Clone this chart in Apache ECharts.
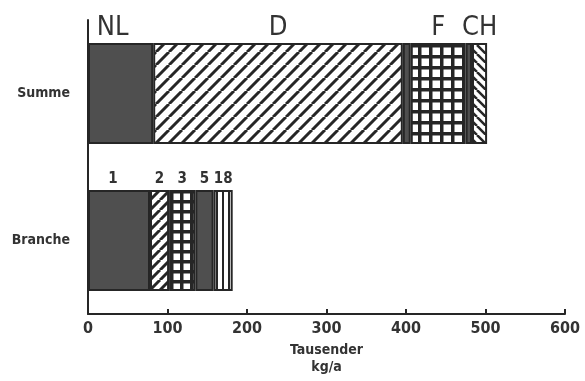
<!DOCTYPE html>
<html>
<head>
<meta charset="utf-8">
<script src="https://cdn.jsdelivr.net/npm/echarts@6/dist/echarts.min.js"></script>
<style>
  html, body { margin: 0; padding: 0; background: #fff; }
  #chart { width: 585px; height: 381px; }
</style>
</head>
<body>
<div id="chart"></div>
<script>
// Categories (ECharts draws the first category at the bottom)
const categories = ['Branche', 'Summe'];

// Totals by country (Summe)
const summeLabels = ['NL', 'D', '', 'F', '', 'CH'];
const summeValues = [82, 314, 10, 69, 8, 19];

// Totals by branch (Branche)
const brancheLabels = ['1', '2', '3', '5', '18'];
const brancheValues = [78, 24, 33, 23, 24];

// Value axis ticks
const xTicks = [0, 100, 200, 300, 400, 500, 600];

const INK = '#262626';
const DARK = '#4f4f4f';
const FONT = '"Liberation Sans Narrow", "DejaVu Sans Condensed", "Liberation Sans", sans-serif';

// ---- fill patterns -------------------------------------------------------
function tile(p) {
  const c = document.createElement('canvas');
  c.width = p; c.height = p;
  const g = c.getContext('2d');
  g.fillStyle = '#fff';
  g.fillRect(0, 0, p, p);
  return { c, g };
}
function hatch(p, lw, rising) {
  const { c, g } = tile(p);
  g.strokeStyle = INK;
  g.lineWidth = lw;
  g.beginPath();
  for (let k = -1; k <= 1; k++) {
    if (rising) { g.moveTo(k * p, p); g.lineTo(k * p + p, 0); }
    else { g.moveTo(k * p, 0); g.lineTo(k * p + p, p); }
  }
  g.stroke();
  return { image: c, repeat: 'repeat' };
}
function grid(p, lw) {
  const { c, g } = tile(p);
  g.fillStyle = INK;
  g.fillRect(0, 0, p, lw);
  g.fillRect(0, 0, lw, p);
  return { image: c, repeat: 'repeat' };
}
function vlines(p, lw) {
  const { c, g } = tile(p);
  g.fillStyle = INK;
  g.fillRect(0, 0, lw, p);
  return { image: c, repeat: 'repeat' };
}

const summeFills = [DARK, hatch(13, 3, true), DARK, grid(11, 3.5), DARK, hatch(9, 2.5, false)];
const brancheFills = [DARK, hatch(10, 3, true), grid(10, 3.5), DARK, vlines(6, 2)];

// ---- series --------------------------------------------------------------
function segment(name, value, fill, catIndex, labelStyle) {
  const data = categories.map((_, i) => (i === catIndex ? value : '-'));
  return {
    name: name || ' ',
    type: 'bar',
    stack: 'total',
    barWidth: 101,
    data,
    itemStyle: { color: fill, borderColor: INK, borderWidth: 2 },
    label: Object.assign({
      show: !!name,
      position: 'top',
      formatter: () => name,
      color: '#333',
      fontFamily: FONT
    }, labelStyle),
    emphasis: { disabled: true }
  };
}

const series = [];
summeValues.forEach((v, i) => {
  series.push(segment(summeLabels[i], v, summeFills[i], 1, {
    fontSize: 27, fontWeight: 'normal', distance: 2,
    offset: i === 0 ? [-8, 0] : [0, 0]
  }));
});
brancheValues.forEach((v, i) => {
  series.push(segment(brancheLabels[i], v, brancheFills[i], 0, {
    fontSize: 15, fontWeight: 'bold', distance: 3,
    offset: i === 0 ? [-6, 0] : [0, 0]
  }));
});

const chart = echarts.init(document.getElementById('chart'), null, { renderer: 'canvas' });
chart.setOption({
  animation: false,
  backgroundColor: '#fff',
  grid: { left: 88, right: 20, top: 20, bottom: 64 },
  xAxis: {
    type: 'value',
    min: xTicks[0],
    max: xTicks[xTicks.length - 1],
    interval: xTicks[1] - xTicks[0],
    name: 'Tausender\nkg/a',
    nameLocation: 'middle',
    nameGap: 28,
    nameTextStyle: { fontFamily: FONT, fontSize: 14, fontWeight: 'bold', color: '#333', lineHeight: 17 },
    axisLine: { show: true, lineStyle: { color: INK, width: 2 } },
    axisTick: { show: true, inside: true, length: 5, lineStyle: { color: INK, width: 2 } },
    axisLabel: { fontFamily: FONT, fontSize: 16, fontWeight: 'bold', color: '#333', margin: 7 },
    splitLine: { show: false }
  },
  yAxis: {
    type: 'category',
    data: categories,
    axisLine: { show: true, lineStyle: { color: INK, width: 2 } },
    axisTick: { show: false },
    axisLabel: { fontFamily: FONT, fontSize: 14, fontWeight: 'bold', color: '#333', margin: 18 }
  },
  series
});
</script>
</body>
</html>
